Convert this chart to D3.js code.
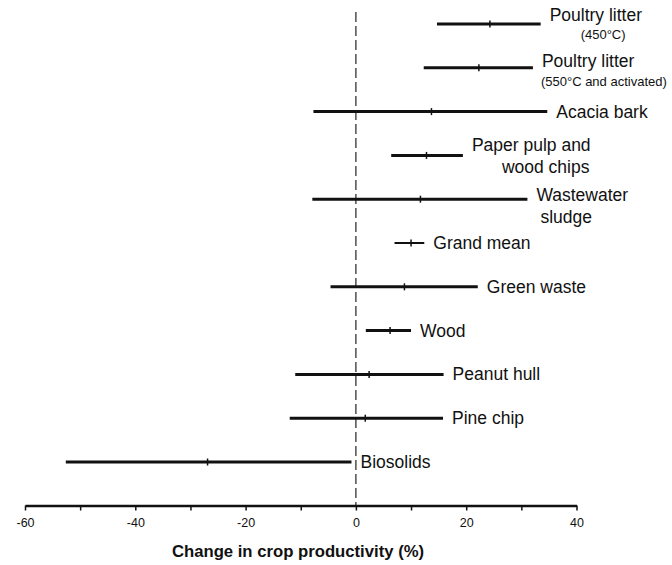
<!DOCTYPE html>
<html>
<head>
<meta charset="utf-8">
<script src="https://cdn.jsdelivr.net/npm/d3@7"></script>
<style>
  body { margin: 0; background: #fff; }
  text { font-family: "Liberation Sans", Arial, sans-serif; }
</style>
</head>
<body>
<svg id="chart" width="672" height="565"></svg>
<script>
// feedstock categories, top to bottom
const categories = [
  "Poultry litter (450°C)",
  "Poultry litter (550°C and activated)",
  "Acacia bark",
  "Paper pulp and wood chips",
  "Wastewater sludge",
  "Grand mean",
  "Green waste",
  "Wood",
  "Peanut hull",
  "Pine chip",
  "Biosolids"
];

// mean change and confidence interval (%)
const means = [24.3, 22.3, 13.7, 12.8, 11.7, 10.0, 8.8, 6.2, 2.4, 1.7, -26.9];
const lower = [14.7, 12.3, -7.7, 6.4, -7.9, 7.0, -4.6, 1.8, -11.0, -12.0, -52.6];
const upper = [33.5, 32.1, 34.7, 19.4, 31.1, 12.4, 22.1, 10.0, 15.9, 15.8, -0.8];

// label text lines
const labelLines = [
  ["Poultry litter", "(450°C)"],
  ["Poultry litter", "(550°C and activated)"],
  ["Acacia bark"],
  ["Paper pulp and", "wood chips"],
  ["Wastewater", "sludge"],
  ["Grand mean"],
  ["Green waste"],
  ["Wood"],
  ["Peanut hull"],
  ["Pine chip"],
  ["Biosolids"]
];

const xTicks = [-60, -50, -40, -30, -20, -10, 0, 10, 20, 30, 40];

// per-line layout: [dx, baseline offset, font size]
const labelLayout = [
  [[0, -3, 17.5], [31, 15, 13]],
  [[0, -1, 17.5], [-1, 18, 13]],
  [[0, 6, 17.5]],
  [[0, -4.5, 17.5], [30, 17.5, 17.5]],
  [[0, 1.5, 17.5], [4, 23.5, 17.5]],
  [[0, 6, 17.5]],
  [[0, 6, 17.5]],
  [[0, 6, 17.5]],
  [[0, 6, 17.5]],
  [[0, 6, 17.5]],
  [[0, 6, 17.5]]
];

const rows = categories.map((c, i) => ({
  name: c, mean: means[i], lo: lower[i], hi: upper[i], lines: labelLines[i], layout: labelLayout[i]
}));

const svg = d3.select("#chart");

const x = d3.scaleLinear().domain([-60, 40]).range([25, 576.5]);
const y = d3.scalePoint().domain(categories).range([24, 462]);
const axisY = 505.5;

// zero reference line
svg.append("line")
  .attr("x1", x(0)).attr("x2", x(0))
  .attr("y1", 12).attr("y2", axisY)
  .attr("stroke", "#222")
  .attr("stroke-width", 1.2)
  .attr("stroke-dasharray", "10,4");

const row = svg.append("g")
  .selectAll("g")
  .data(rows)
  .join("g")
  .attr("transform", d => `translate(0,${y(d.name)})`);

row.append("line")
  .attr("x1", d => x(d.lo))
  .attr("x2", d => x(d.hi))
  .attr("stroke", "#111")
  .attr("stroke-width", d => d.name === "Grand mean" ? 2 : 3);

row.append("line")
  .attr("x1", d => x(d.mean)).attr("x2", d => x(d.mean))
  .attr("y1", -3.5).attr("y2", 3.5)
  .attr("stroke", "#111")
  .attr("stroke-width", 1.5);

row.each(function(d) {
  const g = d3.select(this);
  d.lines.forEach((t, j) => {
    const [dx, dy, fs] = d.layout[j];
    g.append("text")
      .attr("x", x(d.hi) + 9 + dx)
      .attr("y", dy)
      .attr("font-size", fs)
      .attr("fill", "#111")
      .text(t);
  });
});

// x axis
const axis = svg.append("g")
  .attr("transform", `translate(0,${axisY})`)
  .call(d3.axisBottom(x)
    .tickValues(xTicks)
    .tickSize(5)
    .tickSizeOuter(0)
    .tickPadding(8)
    .tickFormat(d => d % 20 === 0 ? d : ""));

axis.select(".domain").attr("stroke", "#111").attr("stroke-width", 2.5);
axis.selectAll(".tick line").attr("stroke", "#111").attr("stroke-width", 1.5);
axis.selectAll(".tick text")
  .attr("font-family", "Liberation Sans, Arial, sans-serif")
  .attr("font-size", 12.5)
  .attr("fill", "#111");

svg.append("text")
  .attr("x", 298)
  .attr("y", 557)
  .attr("text-anchor", "middle")
  .attr("font-size", 16.7)
  .attr("font-weight", "bold")
  .attr("fill", "#111")
  .text("Change in crop productivity (%)");
</script>
</body>
</html>
